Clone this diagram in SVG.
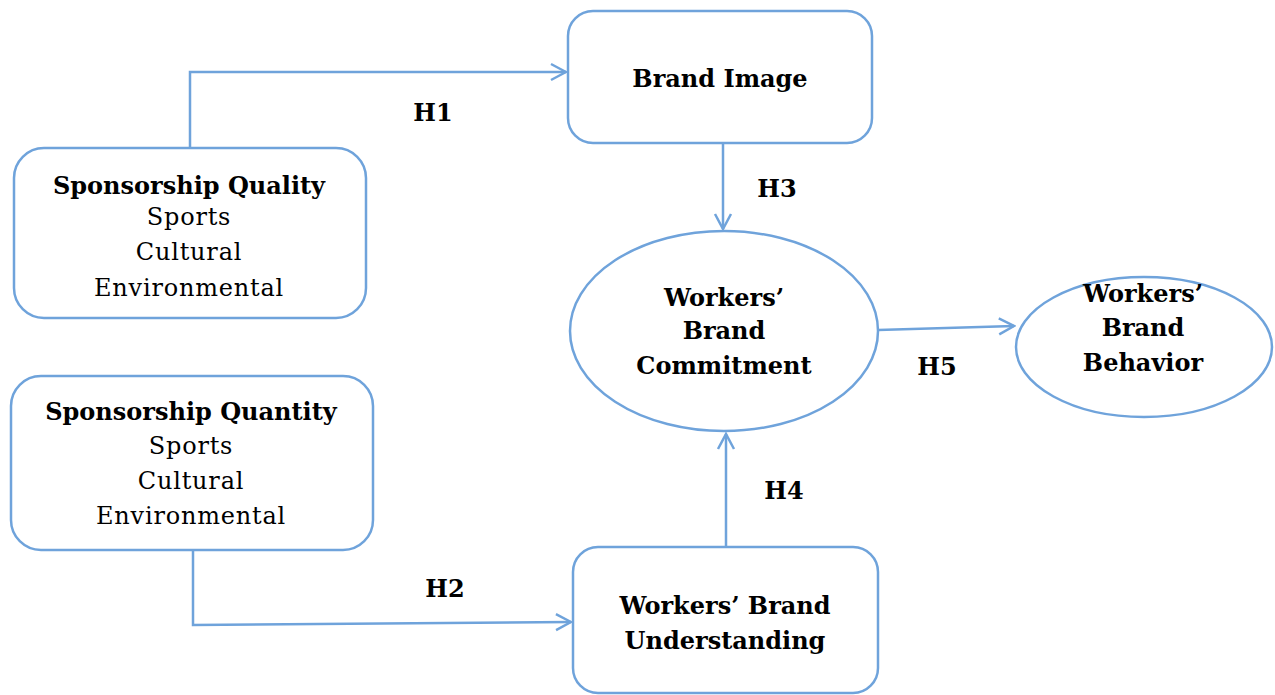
<svg xmlns="http://www.w3.org/2000/svg" width="1275" height="695" viewBox="0 0 1275 695">
<style>
.box{fill:#fff;stroke:#6fa3db;stroke-width:2.5}
.conn{fill:none;stroke:#6fa3db;stroke-width:2.5}
text{font-family:"DejaVu Serif","Liberation Serif",serif;font-size:24px;fill:#000;text-anchor:middle;dominant-baseline:central}
.b{font-weight:bold}
.r{letter-spacing:0.8px}
</style>
<defs>
<marker id="arr" markerUnits="userSpaceOnUse" markerWidth="20" markerHeight="20" viewBox="0 0 20 20" refX="18" refY="10" orient="auto">
<path d="M3,2 L18,10 L3,18" fill="none" stroke="#6fa3db" stroke-width="2.5"/>
</marker>
</defs>
<rect width="1275" height="695" fill="#fff"/>
<g id="connectors">
<path class="conn" d="M190,148 L190,72 L566,72" marker-end="url(#arr)"/>
<path class="conn" d="M193,550 L193,625 L571,622" marker-end="url(#arr)"/>
<path class="conn" d="M723,143 L723,229" marker-end="url(#arr)"/>
<path class="conn" d="M726,547 L726,434" marker-end="url(#arr)"/>
<path class="conn" d="M878,330 L1014,326" marker-end="url(#arr)"/>
<text class="b" x="433" y="112">H1</text>
<text class="b" x="445" y="588">H2</text>
<text class="b" x="777" y="188">H3</text>
<text class="b" x="784" y="490">H4</text>
<text class="b" x="937" y="366">H5</text>
</g>
<g id="brand-image">
<rect class="box" x="568" y="11" width="304" height="132" rx="25"/>
<text class="b" x="720" y="78">Brand Image</text>
</g>
<g id="sponsorship-quality">
<rect class="box" x="14" y="148" width="352" height="170" rx="30"/>
<text class="b" x="189" y="185">Sponsorship Quality</text>
<text class="r" x="189" y="217">Sports</text>
<text class="r" x="189" y="252">Cultural</text>
<text class="r" x="189" y="288">Environmental</text>
</g>
<g id="sponsorship-quantity">
<rect class="box" x="11" y="376" width="362" height="174" rx="30"/>
<text class="b" x="191" y="411">Sponsorship Quantity</text>
<text class="r" x="191" y="446">Sports</text>
<text class="r" x="191" y="481">Cultural</text>
<text class="r" x="191" y="516">Environmental</text>
</g>
<g id="brand-commitment">
<ellipse class="box" cx="724" cy="331" rx="154" ry="100"/>
<text class="b" x="724" y="297">Workers’</text>
<text class="b" x="724" y="330">Brand</text>
<text class="b" x="724" y="365">Commitment</text>
</g>
<g id="brand-behavior">
<ellipse class="box" cx="1144" cy="347" rx="128" ry="70"/>
<text class="b" x="1143" y="293">Workers’</text>
<text class="b" x="1143" y="327">Brand</text>
<text class="b" x="1143" y="362">Behavior</text>
</g>
<g id="brand-understanding">
<rect class="box" x="573" y="547" width="305" height="146" rx="25"/>
<text class="b" x="725" y="605">Workers’ Brand</text>
<text class="b" x="725" y="640">Understanding</text>
</g>
</svg>
